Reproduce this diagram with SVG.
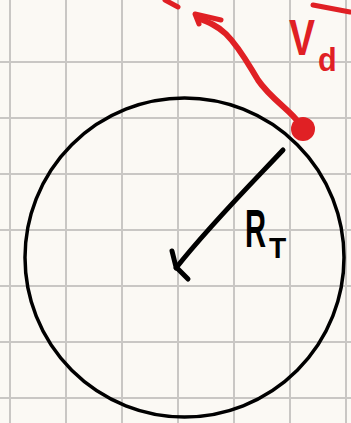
<svg xmlns="http://www.w3.org/2000/svg" width="351" height="423" viewBox="0 0 351 423">
<style>
.grid{stroke:#c9c7c4;stroke-width:2}
.ink{fill:none;stroke:#000;stroke-linecap:round;stroke-linejoin:round}
.red{fill:none;stroke:#e02024;stroke-linecap:round;stroke-linejoin:round}
.lbl{font-family:"Liberation Sans",Arial,sans-serif;font-weight:bold}
</style>
<rect width="351" height="423" fill="#fbf9f4"/>
<g id="grid">
<path class="grid" d="M10,0V423M66,0V423M122,0V423M178,0V423M234,0V423M290,0V423M346,0V423M0,62H351M0,118H351M0,174H351M0,230H351M0,286H351M0,342H351M0,398H351"/>
</g>
<g id="circle">
<circle class="ink" cx="184.5" cy="257.5" r="159.5" stroke-width="3.5"/>
</g>
<g id="connectors">
<path class="ink" d="M283,150 C250,185 210,225 176,268" stroke-width="5"/>
<path class="ink" d="M172,251 L176,267 L188,279" stroke-width="5"/>
<path class="red" d="M298,122 C292,112 270,98 258,80 C248,64 240,48 226,34 C218,26 208,22 198,18" stroke-width="6"/>
<path class="red" d="M221,20 L195,14 L199,24" stroke-width="5"/>
<path class="red" d="M165,0 L178,7" stroke-width="5"/>
<path class="red" d="M313,5 L350,12" stroke-width="5"/>
</g>
<g id="dot">
<circle cx="303" cy="129" r="12" fill="#e02024"/>
</g>
<g id="label-vd">
<text class="lbl" transform="translate(289,55) scale(0.78,1)" font-size="50" fill="#e02024">V</text>
<text class="lbl" transform="translate(318,71) scale(0.9,1)" font-size="34" fill="#e02024">d</text>
</g>
<g id="label-rt">
<text class="lbl" transform="translate(245,247) scale(0.54,1)" font-size="54" fill="#000">R</text>
<text class="lbl" transform="translate(269,258) scale(0.94,1)" font-size="30" fill="#000">T</text>
</g>
</svg>
